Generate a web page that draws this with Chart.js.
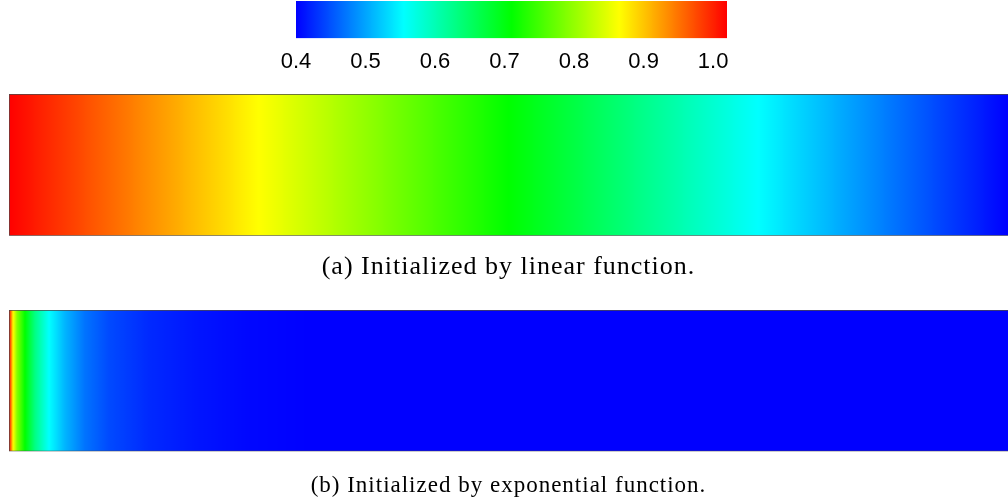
<!DOCTYPE html>
<html>
<head>
<meta charset="utf-8">
<script src="https://cdn.jsdelivr.net/npm/chart.js@4.4.1/dist/chart.umd.min.js"></script>
<style>
  html, body { margin: 0; padding: 0; background: #ffffff; overflow: hidden; width: 1008px; height: 502px; }
  canvas { position: absolute; left: 0; }
</style>
</head>
<body>
<canvas id="legendBar" width="1008" height="80" style="top:0px"></canvas>
<canvas id="panelA" width="1008" height="200" style="top:85px"></canvas>
<canvas id="panelB" width="1008" height="201" style="top:301px"></canvas>
<script>
// Contour levels of the colour legend
const LEVEL_MIN = 0.4;
const LEVEL_MAX = 1.02;
const LEGEND_TICKS = [0.4, 0.5, 0.6, 0.7, 0.8, 0.9, 1.0];
const LEGEND_TICK_LABELS = ['0.4', '0.5', '0.6', '0.7', '0.8', '0.9', '1.0'];

// Rainbow colours spread evenly from LEVEL_MIN to LEVEL_MAX
const RAINBOW = [[0, 0, 255], [0, 255, 255], [0, 255, 0], [255, 255, 0], [255, 0, 0]];

// Initial field along the channel (x / L from 0 to 1), linear start
const LINEAR_X = [0, 0.25, 0.5, 0.75, 1.0];
const LINEAR_VALUES = [1.02, 0.865, 0.71, 0.555, 0.40];

// Initial field along the channel, exponential start
const EXP_X = [0, 0.002, 0.004, 0.008, 0.016, 0.026, 0.04, 0.056, 0.076, 0.10, 0.14, 0.19, 0.24, 0.30, 1.0];
const EXP_VALUES = [1.02, 0.95, 0.87, 0.79, 0.71, 0.63, 0.556, 0.51, 0.47, 0.445, 0.425, 0.412, 0.404, 0.40, 0.40];

const CAPTIONS = ['(a) Initialized by linear function.', '(b) Initialized by exponential function.'];

function colorAt(v) {
  let t = (v - LEVEL_MIN) / (LEVEL_MAX - LEVEL_MIN);
  t = Math.max(0, Math.min(1, t));
  const seg = t * (RAINBOW.length - 1);
  const i = Math.min(Math.floor(seg), RAINBOW.length - 2);
  const f = seg - i;
  const a = RAINBOW[i], b = RAINBOW[i + 1];
  const c = a.map((ch, k) => Math.round(ch + (b[k] - ch) * f));
  return `rgb(${c[0]},${c[1]},${c[2]})`;
}

function valueAt(xs, vs, p) {
  if (p <= xs[0]) return vs[0];
  for (let k = 1; k < xs.length; k++) {
    if (p <= xs[k]) {
      const f = (p - xs[k - 1]) / (xs[k] - xs[k - 1]);
      return vs[k - 1] + (vs[k] - vs[k - 1]) * f;
    }
  }
  return vs[vs.length - 1];
}

// Horizontal gradient that paints a field through the chart's x scale
function fieldGradient(xs, vs) {
  return (ctx) => {
    const chart = ctx.chart;
    if (!chart.chartArea) return 'rgba(0,0,0,0)';
    const sx = chart.scales.x;
    const lo = xs[0], hi = xs[xs.length - 1];
    const g = chart.ctx.createLinearGradient(sx.getPixelForValue(lo), 0, sx.getPixelForValue(hi), 0);
    const N = 1000;
    for (let k = 0; k <= N; k++) {
      const p = lo + (hi - lo) * k / N;
      g.addColorStop(k / N, colorAt(valueAt(xs, vs, p)));
    }
    return g;
  };
}

// Slightly wider letter spacing for the serif captions
const captionSpacing = {
  id: 'captionSpacing',
  beforeDraw(chart) { chart.ctx.letterSpacing = '1px'; }
};

Chart.defaults.animation = false;

// Colour legend
new Chart(document.getElementById('legendBar'), {
  type: 'bar',
  data: {
    labels: [''],
    datasets: [{
      data: [[LEVEL_MIN, LEVEL_MAX]],
      backgroundColor: fieldGradient([LEVEL_MIN, LEVEL_MAX], [LEVEL_MIN, LEVEL_MAX]),
      borderWidth: 0,
      barPercentage: 1,
      categoryPercentage: 1
    }]
  },
  options: {
    indexAxis: 'y',
    responsive: false,
    maintainAspectRatio: false,
    events: [],
    layout: { padding: { left: 296, right: 281, top: 1, bottom: 4.6 } },
    plugins: { legend: { display: false }, tooltip: { enabled: false }, title: { display: false } },
    scales: {
      x: {
        type: 'linear',
        min: LEVEL_MIN,
        max: LEVEL_MAX,
        grid: { display: false, drawTicks: false },
        border: { display: false },
        afterBuildTicks: (s) => { s.ticks = LEGEND_TICKS.map(v => ({ value: v })); },
        ticks: {
          padding: 11,
          color: '#000000',
          autoSkip: false,
          maxRotation: 0,
          font: { family: 'Liberation Sans', size: 22 },
          callback: (v, i) => LEGEND_TICK_LABELS[i]
        }
      },
      y: { display: false }
    }
  }
});

function panel(id, xs, vs, caption, top, captionSize, captionGap) {
  new Chart(document.getElementById(id), {
    type: 'bar',
    data: {
      labels: [''],
      datasets: [{
        data: [[xs[0], xs[xs.length - 1]]],
        backgroundColor: fieldGradient(xs, vs),
        borderColor: '#4a4a4a',
        borderWidth: 1,
        borderSkipped: 'end',
        barPercentage: 1,
        categoryPercentage: 1
      }]
    },
    options: {
      indexAxis: 'y',
      responsive: false,
      maintainAspectRatio: false,
      events: [],
      layout: { padding: { left: 9, right: 0, top: top, bottom: 2 } },
      plugins: {
        legend: { display: false },
        tooltip: { enabled: false },
        title: {
          display: true,
          position: 'bottom',
          text: caption,
          color: '#000000',
          font: { family: 'Liberation Serif', size: captionSize, weight: 'normal', lineHeight: 1.2 },
          padding: { top: captionGap, bottom: 0 }
        }
      },
      scales: {
        x: { type: 'linear', display: false, min: xs[0], max: xs[xs.length - 1] },
        y: { display: false }
      }
    },
    plugins: [captionSpacing]
  });
}

panel('panelA', LINEAR_X, LINEAR_VALUES, CAPTIONS[0], 9, 26, 16);
panel('panelB', EXP_X, EXP_VALUES, CAPTIONS[1], 9, 23, 21);
</script>
</body>
</html>
